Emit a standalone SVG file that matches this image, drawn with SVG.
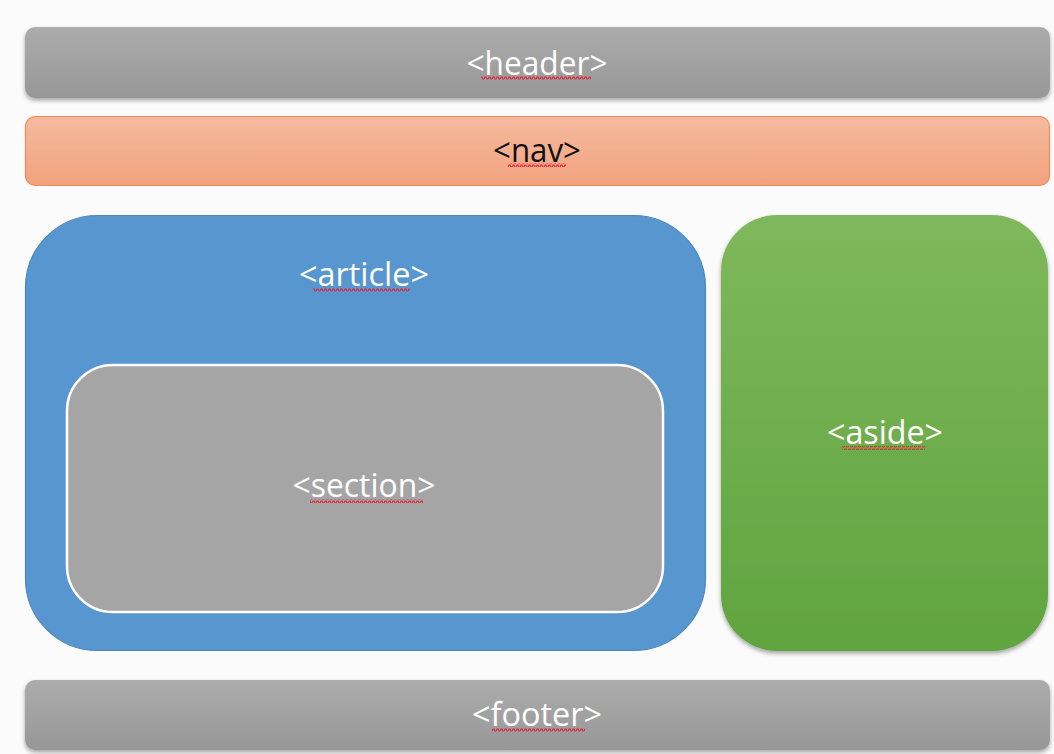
<svg xmlns="http://www.w3.org/2000/svg" width="1054" height="754" viewBox="0 0 1054 754">
  <defs>
    <linearGradient id="grayFill" x1="0" y1="0" x2="0" y2="1">
      <stop offset="0" stop-color="#acacac"/>
      <stop offset="1" stop-color="#979797"/>
    </linearGradient>
    <linearGradient id="navFill" x1="0" y1="0" x2="0" y2="1">
      <stop offset="0" stop-color="#f5bb9f"/>
      <stop offset="1" stop-color="#f2a27e"/>
    </linearGradient>
    <linearGradient id="asideFill" x1="0" y1="0" x2="0" y2="1">
      <stop offset="0" stop-color="#7fb85c"/>
      <stop offset="1" stop-color="#60a43f"/>
    </linearGradient>
    <filter id="shadow" x="-5%" y="-20%" width="110%" height="150%">
      <feDropShadow dx="0" dy="2.5" stdDeviation="2" flood-color="#000" flood-opacity="0.35"/>
    </filter>
    <!-- wavy spell-check underline -->
    <pattern id="squiggle" width="4" height="4" patternUnits="userSpaceOnUse">
      <path d="M0 3 L1 1 L2 1 L3 3 L4 3" fill="none" stroke="#e0263a" stroke-width="1.2"/>
    </pattern>
    <style>
      .lbl { font-family: "Open Sans", "Liberation Sans", sans-serif; font-size: 32px; text-anchor: middle; }
      .light { fill: #ffffff; }
      .dark { fill: #111111; }
      .wave { fill: url(#squiggle); }
    </style>
  </defs>

  <rect width="1054" height="754" fill="#fbfbfb"/>

  <g id="header">
    <rect x="25" y="27" width="1025" height="71" rx="10" fill="url(#grayFill)" filter="url(#shadow)"/>
    <text class="lbl light" x="537" y="75" textLength="141" lengthAdjust="spacingAndGlyphs">&lt;header&gt;</text>
    <rect class="wave" x="481" y="76" width="110" height="4"/>
  </g>

  <g id="nav">
    <rect x="25.5" y="116.5" width="1024" height="69" rx="10" fill="url(#navFill)" stroke="#ee8a55" stroke-width="1.2"/>
    <text class="lbl dark" x="537" y="162" textLength="88" lengthAdjust="spacingAndGlyphs">&lt;nav&gt;</text>
    <rect class="wave" x="508" y="163" width="58" height="4"/>
  </g>

  <g id="article">
    <rect x="25.5" y="215.5" width="680" height="435" rx="72" fill="#5896cf" stroke="#4b87c0" stroke-width="1.2"/>
    <text class="lbl light" x="364" y="286" textLength="130" lengthAdjust="spacingAndGlyphs">&lt;article&gt;</text>
    <rect class="wave" x="313" y="288" width="97" height="4"/>
  </g>

  <g id="section">
    <rect x="67" y="365" width="596" height="247" rx="46" fill="#a5a5a5" stroke="#ffffff" stroke-width="2.5"/>
    <text class="lbl light" x="364" y="497" textLength="143" lengthAdjust="spacingAndGlyphs">&lt;section&gt;</text>
    <rect class="wave" x="310" y="499" width="113" height="4"/>
  </g>

  <g id="aside">
    <rect x="721" y="215" width="327" height="436" rx="56" fill="url(#asideFill)" filter="url(#shadow)"/>
    <text class="lbl light" x="885" y="444" textLength="116" lengthAdjust="spacingAndGlyphs">&lt;aside&gt;</text>
    <rect class="wave" x="842" y="446" width="83" height="4"/>
  </g>

  <g id="footer">
    <rect x="25" y="680" width="1025" height="70" rx="10" fill="url(#grayFill)" filter="url(#shadow)"/>
    <text class="lbl light" x="537" y="726" textLength="130" lengthAdjust="spacingAndGlyphs">&lt;footer&gt;</text>
    <rect class="wave" x="492" y="728" width="93" height="4"/>
  </g>

  <g id="connectors"/>
</svg>
